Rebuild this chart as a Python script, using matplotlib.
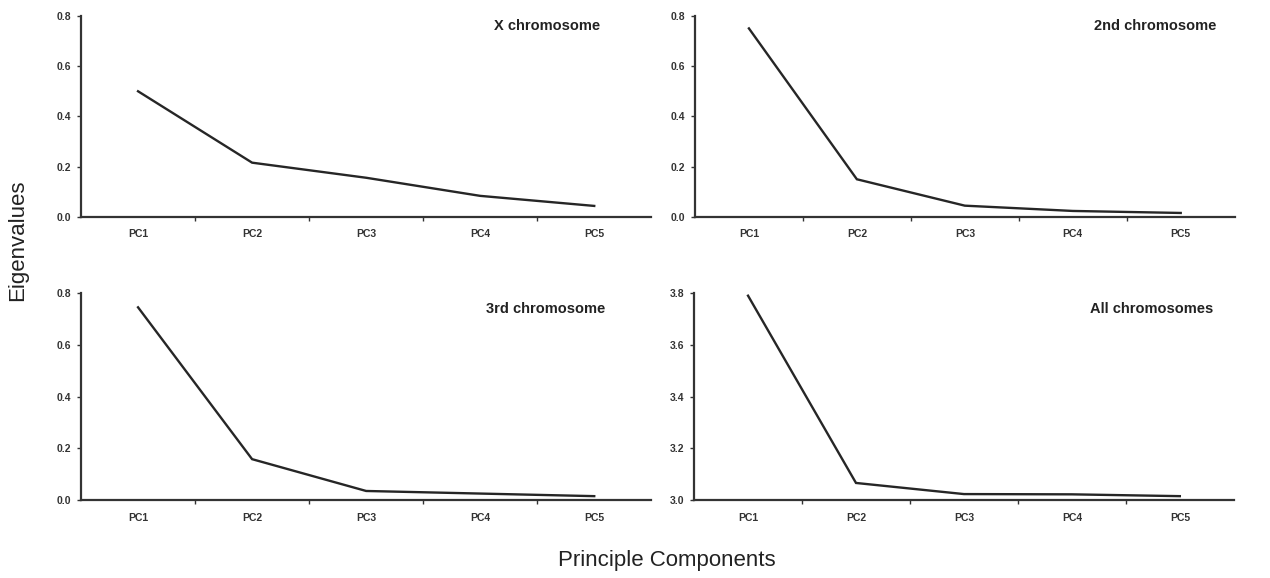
import matplotlib.pyplot as plt
from matplotlib.ticker import FormatStrFormatter

plt.rcParams['font.family'] = ['Liberation Sans', 'DejaVu Sans']

components = ['PC1', 'PC2', 'PC3', 'PC4', 'PC5']

x_chrom = [0.50, 0.216, 0.156, 0.084, 0.044]
chrom_2 = [0.75, 0.150, 0.045, 0.024, 0.016]
chrom_3 = [0.745, 0.158, 0.035, 0.025, 0.015]
all_chrom = [3.79, 3.066, 3.023, 3.022, 3.015]

titles = ['X chromosome', '2nd chromosome', '3rd chromosome', 'All chromosomes']
y_ranges = [(0.0, 0.8), (0.0, 0.8), (0.0, 0.8), (3.0, 3.8)]

fig = plt.figure(figsize=(12.7, 5.78), dpi=100)

# axes rectangles in figure fraction
rects = [
    [0.0638, 0.6246, 0.449, 0.348],
    [0.5472, 0.6246, 0.425, 0.348],
    [0.0638, 0.1349, 0.449, 0.358],
    [0.5465, 0.1349, 0.425, 0.358],
]
title_pos = [(0.91, 0.985), (0.966, 0.985), (0.92, 0.955), (0.962, 0.955)]
series = [x_chrom, chrom_2, chrom_3, all_chrom]

for rect, vals, title, yr, tp in zip(rects, series, titles, y_ranges, title_pos):
    ax = fig.add_axes(rect)
    xs = list(range(len(components)))
    ax.plot(xs, vals, color='#262626', lw=1.7, solid_joinstyle='miter')
    ax.set_xlim(-0.5, len(components) - 0.5)
    ax.set_ylim(*yr)
    ax.set_yticks([yr[0] + 0.2 * i for i in range(5)])
    ax.yaxis.set_major_formatter(FormatStrFormatter('%.1f'))
    ax.set_xticks(xs)
    ax.set_xticklabels(components)
    ax.set_xticks([i + 0.5 for i in range(len(components) - 1)], minor=True)
    ax.tick_params(axis='x', which='major', length=0, pad=9, labelsize=7.5)
    ax.tick_params(axis='x', which='minor', length=3, width=1, color='#333333')
    ax.tick_params(axis='y', length=3, width=1, pad=4, labelsize=7.5, color='#333333')
    for lbl in ax.get_xticklabels() + ax.get_yticklabels():
        lbl.set_fontweight('bold')
        lbl.set_color('#333333')
    for side in ['top', 'right']:
        ax.spines[side].set_visible(False)
    for side in ['left', 'bottom']:
        ax.spines[side].set_linewidth(1.6)
        ax.spines[side].set_color('#333333')
    ax.text(tp[0], tp[1], title, transform=ax.transAxes, ha='right', va='top',
            fontsize=10.5, fontweight='bold', color='#222222')

fig.text(0.0135, 0.585, 'Eigenvalues', rotation=90, ha='center', va='center',
         fontsize=16, color='#222222')
fig.text(0.525, 0.031, 'Principle Components', ha='center', va='center',
         fontsize=16, color='#222222')

fig.savefig('out.png', dpi=100)
